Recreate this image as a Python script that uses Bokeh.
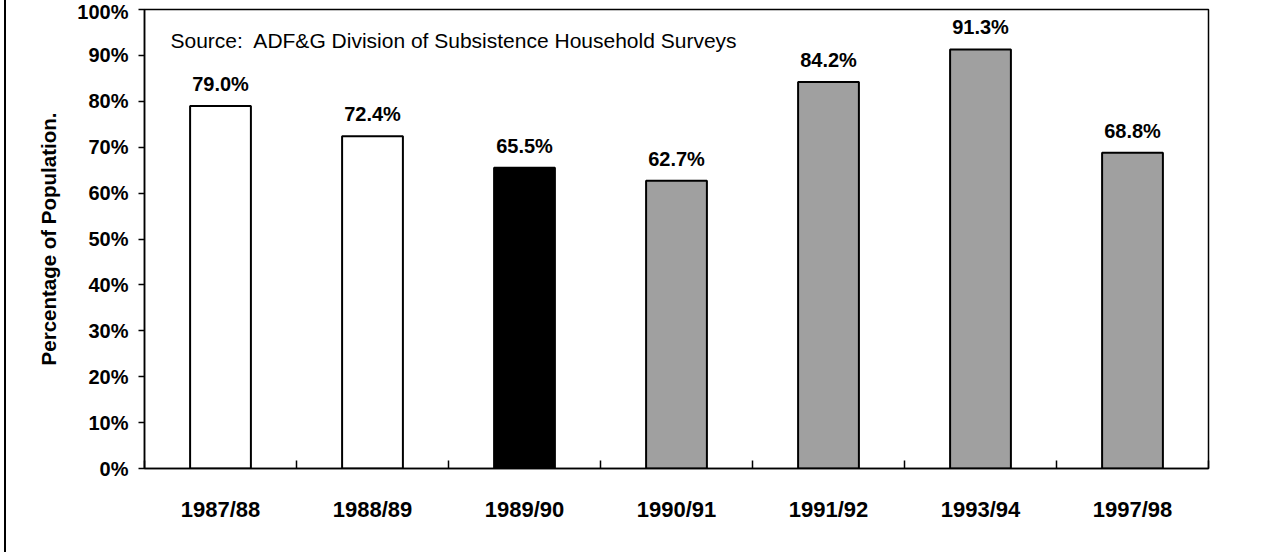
import numpy as np
from bokeh.plotting import figure
from bokeh.models import (Range1d, FixedTicker, PrintfTickFormatter, Label,
                          ColumnDataSource)
from bokeh.core.properties import value
from bokeh.embed import file_html
from bokeh.resources import INLINE

# ---- data ----
categories = ["1987/88", "1988/89", "1989/90", "1990/91", "1991/92", "1993/94", "1997/98"]
percent = [79.0, 72.4, 65.5, 62.7, 84.2, 91.3, 68.8]
bar_colors = ["#ffffff", "#ffffff", "#000000", "#a0a0a0", "#a0a0a0", "#a0a0a0", "#a0a0a0"]
y_ticks = list(range(0, 101, 10))
source_note = "Source:\u00a0 ADF&G Division of Subsistence Household Surveys"
y_title = "Percentage of Population."

FONT = "Liberation Sans"

centers = [i + 0.5 for i in range(len(categories))]
boundaries = list(range(len(categories) + 1))
labels = [f"{v:.1f}%" for v in percent]
src = ColumnDataSource(dict(x=centers, top=percent, color=bar_colors, label=labels))

W, H = 1251, 552
p = figure(width=W, height=H,
           x_range=Range1d(0, len(categories)), y_range=Range1d(0, 100),
           output_backend="svg", toolbar_location=None,
           min_border_left=138, min_border_right=49,
           min_border_top=9, min_border_bottom=84,
           styles={"margin-left": "4px", "margin-top": "0px",
                   "border-left": "2px solid black"})

p.background_fill_color = "white"
p.border_fill_color = "white"
p.outline_line_color = "black"
p.outline_line_width = 1.5
p.grid.visible = False

p.vbar(x="x", top="top", bottom=0, width=0.4, source=src,
       fill_color="color", line_color="black", line_width=2)

p.text(x="x", y="top", text="label", source=src,
       text_align="center", text_baseline="alphabetic", y_offset=-22,
       text_font=value(FONT), text_font_style="bold", text_font_size="20px",
       text_color="black")

# y axis
ya = p.yaxis[0]
ya.ticker = FixedTicker(ticks=y_ticks)
ya.formatter = PrintfTickFormatter(format="%d%%")
ya.major_tick_in = 0
ya.major_tick_out = 6
ya.minor_tick_in = 0
ya.minor_tick_out = 0
ya.axis_line_width = 1.5
ya.major_tick_line_width = 1.5
ya.major_label_standoff = 10
ya.major_label_text_font = FONT
ya.major_label_text_font_style = "bold"
ya.major_label_text_font_size = "20px"
ya.major_label_text_color = "black"
ya.axis_label = y_title
ya.axis_label_text_font = FONT
ya.axis_label_text_font_style = "bold"
ya.axis_label_text_font_size = "20.5px"
ya.axis_label_text_color = "black"
ya.axis_label_standoff = 14

# x axis
xa = p.xaxis[0]
xa.ticker = FixedTicker(ticks=centers, minor_ticks=boundaries)
xa.major_label_overrides = {c: n for c, n in zip(centers, categories)}
xa.major_tick_in = 0
xa.major_tick_out = 0
xa.minor_tick_in = 8
xa.minor_tick_out = 0
xa.minor_tick_line_color = "black"
xa.minor_tick_line_width = 1.5
xa.axis_line_width = 1.5
xa.major_label_standoff = 28
xa.major_label_text_font = FONT
xa.major_label_text_font_style = "bold"
xa.major_label_text_font_size = "22px"
xa.major_label_text_color = "black"

# source note
p.add_layout(Label(x=0.171, y=93.2, text=source_note, text_baseline="alphabetic",
                   text_font=FONT, text_font_size="21px", text_color="black"))

open("out.html", "w").write(file_html(p, INLINE))
